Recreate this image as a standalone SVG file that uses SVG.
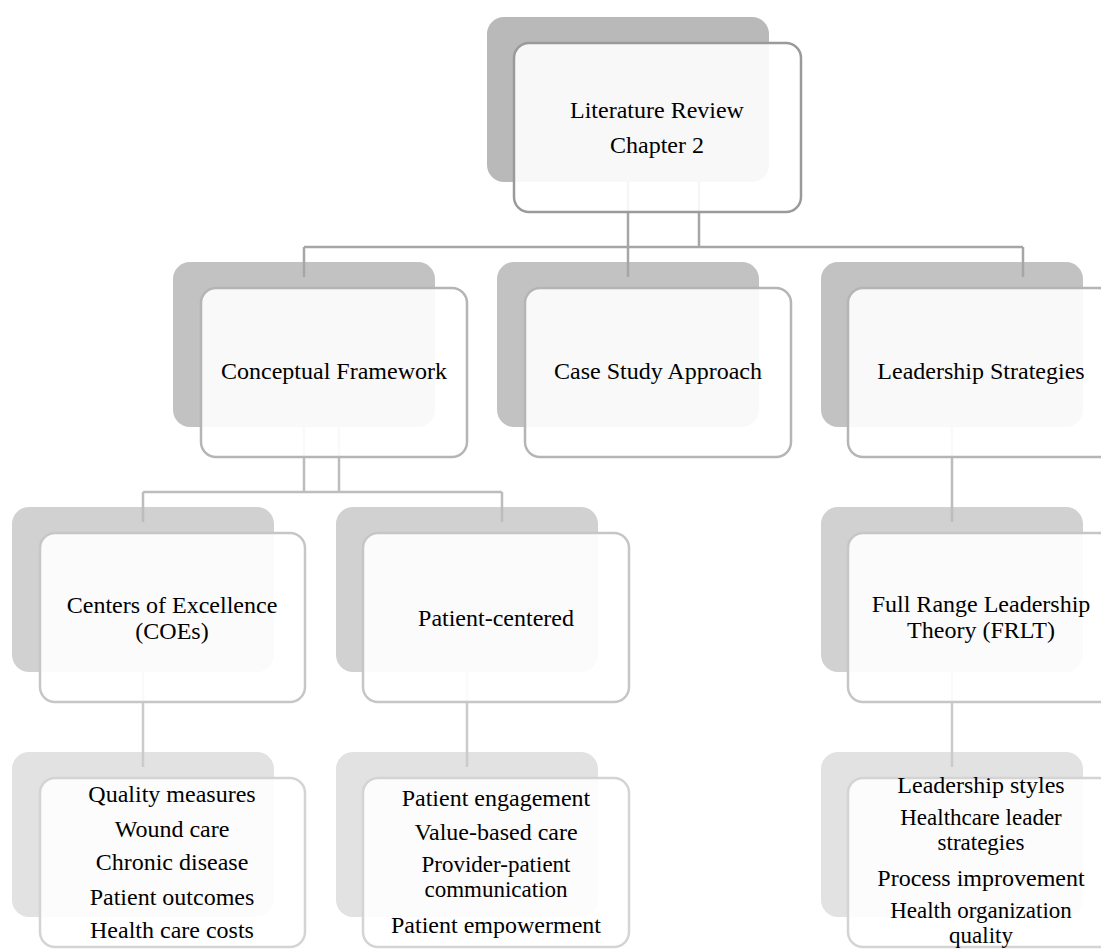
<svg xmlns="http://www.w3.org/2000/svg" width="1101" height="950" viewBox="0 0 1101 950">
<style>
text{font-family:"Liberation Serif","Times New Roman",serif;font-size:24px;fill:#000;text-anchor:middle}
.sm{font-size:23px}
.b1{fill:#b9b9b9}
.b2{fill:#c2c2c2}
.b3{fill:#d1d1d1}
.b4{fill:#e2e2e2}
.f{fill:#fff;fill-opacity:0.9;stroke-width:2.5}
.f1{stroke:#9a9a9a}
.f2{stroke:#b5b5b5}
.f3{stroke:#c6c6c6}
.f4{stroke:#d4d4d4}
.c1{stroke:#a6a6a6;stroke-width:2.5;fill:none}
.c2{stroke:#bdbdbd;stroke-width:2.5;fill:none}
.c3{stroke:#cbcbcb;stroke-width:2.5;fill:none}
</style>
<rect width="1101" height="950" fill="#fff"/>
<g id="backs">
<rect class="b1" x="487" y="17" width="282" height="165" rx="17"/>
<rect class="b2" x="173" y="262" width="262" height="165" rx="17"/>
<rect class="b2" x="497" y="262" width="262" height="165" rx="17"/>
<rect class="b2" x="821" y="262" width="262" height="165" rx="17"/>
<rect class="b3" x="12" y="507" width="262" height="165" rx="17"/>
<rect class="b3" x="336" y="507" width="262" height="165" rx="17"/>
<rect class="b3" x="821" y="507" width="262" height="165" rx="17"/>
<rect class="b4" x="12" y="752" width="262" height="165" rx="17"/>
<rect class="b4" x="336" y="752" width="262" height="165" rx="17"/>
<rect class="b4" x="821" y="752" width="262" height="165" rx="17"/>
</g>
<g id="connectors">
<path class="c1" d="M628 182V277M699 182V247M304 247H1023M304 247V277M1023 247V277"/>
<path class="c2" d="M304 427V492M339 427V492M143 492H502M143 492V522M502 492V522M952 427V522"/>
<path class="c3" d="M143 672V767M467 672V767M952 672V767"/>
</g>
<g id="n-lit">
<rect class="f f1" x="514" y="43" width="287" height="169" rx="15"/>
<text x="657" y="118">Literature Review</text>
<text x="657" y="153">Chapter 2</text>
</g>
<g id="n-concept">
<rect class="f f2" x="201" y="288" width="266" height="169" rx="15"/>
<text x="334" y="379">Conceptual Framework</text>
</g>
<g id="n-case">
<rect class="f f2" x="525" y="288" width="266" height="169" rx="15"/>
<text x="658" y="379">Case Study Approach</text>
</g>
<g id="n-lead">
<rect class="f f2" x="848" y="288" width="266" height="169" rx="15"/>
<text x="981" y="379">Leadership Strategies</text>
</g>
<g id="n-coe">
<rect class="f f3" x="40" y="533" width="265" height="169" rx="15"/>
<text x="172" y="613">Centers of Excellence</text>
<text x="172" y="639">(COEs)</text>
</g>
<g id="n-pc">
<rect class="f f3" x="363" y="533" width="266" height="169" rx="15"/>
<text x="496" y="626">Patient-centered</text>
</g>
<g id="n-frlt">
<rect class="f f3" x="848" y="533" width="266" height="169" rx="15"/>
<text x="981" y="612">Full Range Leadership</text>
<text x="981" y="638">Theory (FRLT)</text>
</g>
<g id="n-coe-items">
<rect class="f f4" x="40" y="778" width="265" height="169" rx="15"/>
<text x="172" y="802">Quality measures</text>
<text x="172" y="837">Wound care</text>
<text x="172" y="870">Chronic disease</text>
<text x="172" y="905">Patient outcomes</text>
<text x="172" y="938">Health care costs</text>
</g>
<g id="n-pc-items">
<rect class="f f4" x="363" y="778" width="266" height="169" rx="15"/>
<text x="496" y="806">Patient engagement</text>
<text x="496" y="840">Value-based care</text>
<text class="sm" x="496" y="872">Provider-patient</text>
<text class="sm" x="496" y="897">communication</text>
<text x="496" y="933">Patient empowerment</text>
</g>
<g id="n-frlt-items">
<rect class="f f4" x="848" y="778" width="266" height="169" rx="15"/>
<text x="981" y="793">Leadership styles</text>
<text class="sm" x="981" y="825">Healthcare leader</text>
<text class="sm" x="981" y="850">strategies</text>
<text x="981" y="886">Process improvement</text>
<text class="sm" x="981" y="918">Health organization</text>
<text class="sm" x="981" y="943">quality</text>
</g>
</svg>
